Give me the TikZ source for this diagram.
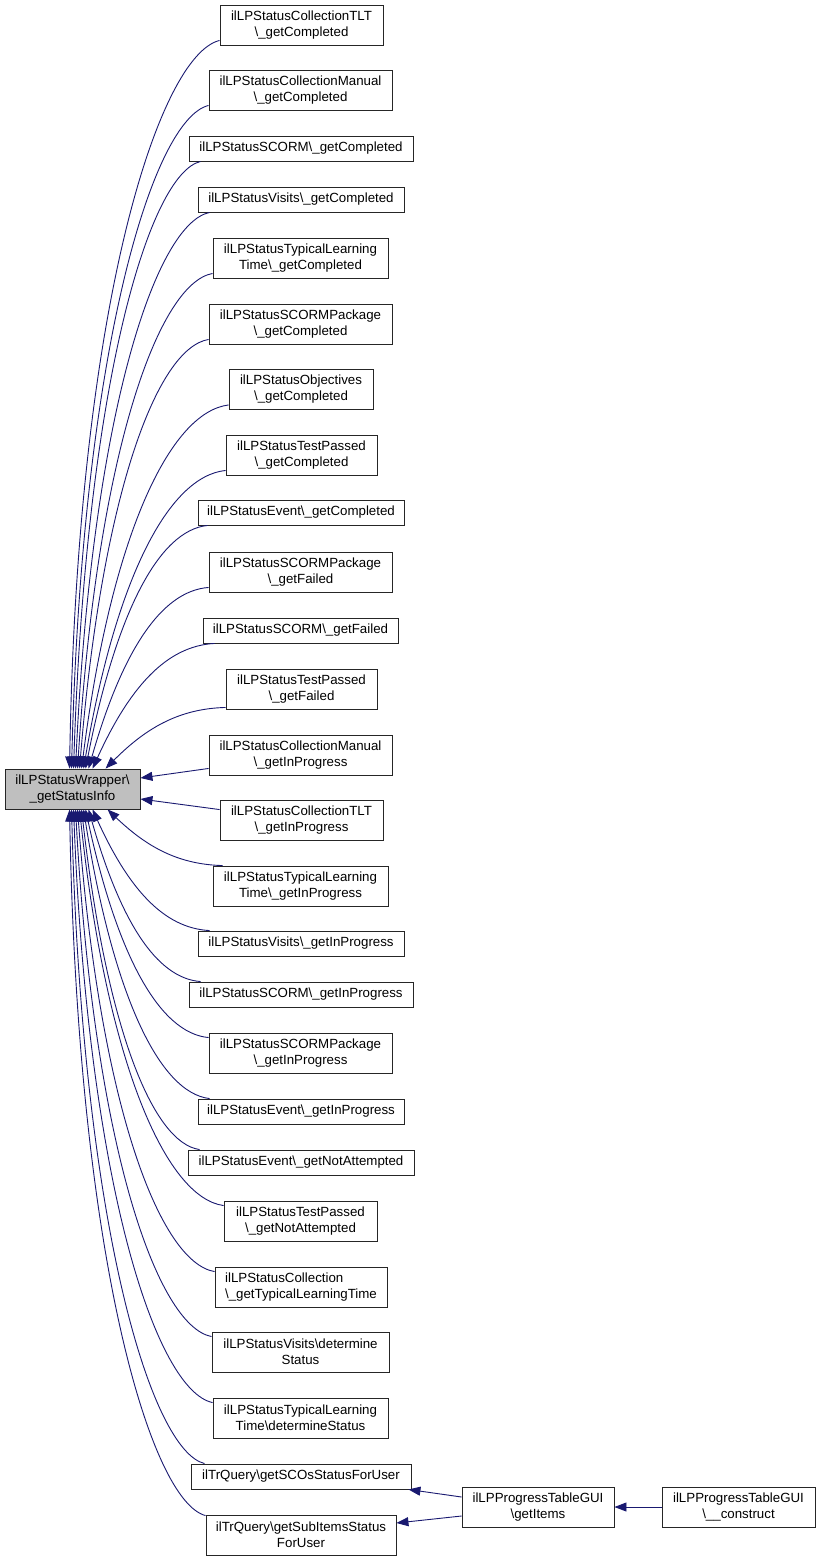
\documentclass[tikz,border=0pt]{standalone}
\usepackage{fontspec}
\setmainfont{Liberation Sans}
\usetikzlibrary{arrows.meta,calc}
\definecolor{edgeblue}{HTML}{191970}
\definecolor{mainfill}{HTML}{BFBFBF}
\newcommand\upedge[2]{\draw[edge] let \p1=(#1), \p2=(#2) in (\p1) .. controls ({\x1-0.4*(\x1-\x2)},{\y1-0.02*(\y1-\y2)}) and ({\x2+(0.35-0.3*(\y1-\y2)/732)*(\x1-\x2)},{\y2+0.64*(\y1-\y2)}) .. (\p2);}
\newcommand\downedge[2]{\draw[edge] let \p1=(#1), \p2=(#2) in (\p1) .. controls ({\x1-0.4*(\x1-\x2)},{\y1+0.02*(\y2-\y1)}) and ({\x2+(0.35-0.3*(\y2-\y1)/732)*(\x1-\x2)},{\y2-0.64*(\y2-\y1)}) .. (\p2);}
\begin{document}
\begin{tikzpicture}[x=1pt,y=-1pt,
  box/.style={draw=black!85, line width=0.9pt, fill=white, font=\fontsize{13.3}{16}\selectfont, align=center, inner sep=0pt, minimum height=25pt},
  two/.style={minimum height=40pt},
  edge/.style={draw=edgeblue, line width=0.9pt, -{Triangle[length=12pt,width=9pt]}},
]
\useasboundingbox (0,0) rectangle (820,1561);

\node[box, two, fill=mainfill, minimum width=135pt] (main) at (72.5,789) {ilLPStatusWrapper\textbackslash\\\_getStatusInfo};

\node[box, two, minimum width=163pt] (n1) at (301.5,25) {ilLPStatusCollectionTLT\\\textbackslash\_getCompleted};
\node[box, two, minimum width=183pt] (n2) at (300.5,90) {ilLPStatusCollectionManual\\\textbackslash\_getCompleted};
\node[box, minimum width=224pt] (n3) at (301,148.5) {ilLPStatusSCORM\textbackslash\_getCompleted};
\node[box, minimum width=206pt] (n4) at (301,199.5) {ilLPStatusVisits\textbackslash\_getCompleted};
\node[box, two, minimum width=175pt] (n5) at (300.5,258) {ilLPStatusTypicalLearning\\Time\textbackslash\_getCompleted};
\node[box, two, minimum width=183pt] (n6) at (300.5,324) {ilLPStatusSCORMPackage\\\textbackslash\_getCompleted};
\node[box, two, minimum width=144pt] (n7) at (301,389.5) {ilLPStatusObjectives\\\textbackslash\_getCompleted};
\node[box, two, minimum width=151pt] (n8) at (301.5,455) {ilLPStatusTestPassed\\\textbackslash\_getCompleted};
\node[box, minimum width=206pt] (n9) at (301,512.5) {ilLPStatusEvent\textbackslash\_getCompleted};
\node[box, two, minimum width=183pt] (n10) at (300.5,572) {ilLPStatusSCORMPackage\\\textbackslash\_getFailed};
\node[box, minimum width=195pt] (n11) at (300.5,630.5) {ilLPStatusSCORM\textbackslash\_getFailed};
\node[box, two, minimum width=151pt] (n12) at (301.5,689) {ilLPStatusTestPassed\\\textbackslash\_getFailed};
\node[box, two, minimum width=183pt] (n13) at (300.5,755) {ilLPStatusCollectionManual\\\textbackslash\_getInProgress};
\node[box, two, minimum width=163pt] (n14) at (301.5,820) {ilLPStatusCollectionTLT\\\textbackslash\_getInProgress};
\node[box, two, minimum width=175pt] (n15) at (300.5,886) {ilLPStatusTypicalLearning\\Time\textbackslash\_getInProgress};
\node[box, minimum width=206pt] (n16) at (301,943.5) {ilLPStatusVisits\textbackslash\_getInProgress};
\node[box, minimum width=224pt] (n17) at (301,994.5) {ilLPStatusSCORM\textbackslash\_getInProgress};
\node[box, two, minimum width=183pt] (n18) at (300.5,1053) {ilLPStatusSCORMPackage\\\textbackslash\_getInProgress};
\node[box, minimum width=206pt] (n19) at (301,1111.5) {ilLPStatusEvent\textbackslash\_getInProgress};
\node[box, minimum width=226pt] (n20) at (301,1162.5) {ilLPStatusEvent\textbackslash\_getNotAttempted};
\node[box, two, minimum width=153pt] (n21) at (300.5,1221) {ilLPStatusTestPassed\\\textbackslash\_getNotAttempted};
\node[box, two, minimum width=172pt, align=left] (n22) at (301,1287) {ilLPStatusCollection\\\textbackslash\_getTypicalLearningTime};
\node[box, two, minimum width=177pt] (n23) at (300.5,1352) {ilLPStatusVisits\textbackslash determine\\Status};
\node[box, two, minimum width=175pt] (n24) at (300.5,1418) {ilLPStatusTypicalLearning\\Time\textbackslash determineStatus};
\node[box, minimum width=220pt] (n25) at (301,1476.5) {ilTrQuery\textbackslash getSCOsStatusForUser};
\node[box, two, minimum width=190pt] (n26) at (301,1535) {ilTrQuery\textbackslash getSubItemsStatus\\ForUser};
\node[box, two, minimum width=152pt] (n27) at (538,1507) {ilLPProgressTableGUI\\\textbackslash getItems};
\node[box, two, minimum width=153pt] (n28) at (738.5,1507) {ilLPProgressTableGUI\\\textbackslash\_\_construct};

% edges into the top of the main node
\upedge{[yshift=5pt]n1.south west}{[xshift=65pt]main.north west}
\upedge{[yshift=5pt]n2.south west}{[xshift=67pt]main.north west}
\upedge{[xshift=12pt]n3.south west}{[xshift=69pt]main.north west}
\upedge{[xshift=12pt]n4.south west}{[xshift=71pt]main.north west}
\upedge{[yshift=5pt]n5.south west}{[xshift=73pt]main.north west}
\upedge{[yshift=5pt]n6.south west}{[xshift=75pt]main.north west}
\upedge{[yshift=5pt]n7.south west}{[xshift=77pt]main.north west}
\upedge{[yshift=5pt]n8.south west}{[xshift=79pt]main.north west}
\upedge{[xshift=10pt]n9.south west}{[xshift=81pt]main.north west}
\upedge{[yshift=5pt]n10.south west}{[xshift=84pt]main.north west}
\upedge{[xshift=12pt]n11.south west}{[xshift=88pt]main.north west}
\upedge{[yshift=2pt]n12.south west}{[xshift=101pt]main.north west}
% edges into the east side
\draw[edge] ([yshift=7pt]n13.south west) -- ([yshift=11pt]main.east);
\draw[edge] ([yshift=-10pt]n14.north west) -- ([yshift=-10pt]main.east);
% edges into the bottom of the main node
\downedge{[xshift=10pt]n15.north west}{[xshift=103pt]main.south west}
\downedge{[xshift=12pt]n16.north west}{[xshift=88pt]main.south west}
\downedge{[xshift=12pt]n17.north west}{[xshift=84pt]main.south west}
\downedge{[yshift=-5pt]n18.north west}{[xshift=81pt]main.south west}
\downedge{[xshift=12pt]n19.north west}{[xshift=79pt]main.south west}
\downedge{[xshift=12pt]n20.north west}{[xshift=77pt]main.south west}
\downedge{[yshift=-5pt]n21.north west}{[xshift=75pt]main.south west}
\downedge{[yshift=-5pt]n22.north west}{[xshift=73pt]main.south west}
\downedge{[yshift=-5pt]n23.north west}{[xshift=71pt]main.south west}
\downedge{[yshift=-5pt]n24.north west}{[xshift=69pt]main.south west}
\downedge{[xshift=14pt]n25.north west}{[xshift=67pt]main.south west}
\downedge{[yshift=-1pt]n26.north west}{[xshift=65pt]main.south west}
% bottom right chain
\draw[edge] ([yshift=10pt]n27.west) -- ([xshift=-3pt]n25.south east);
\draw[edge] ([yshift=-9pt]n27.west) -- ([yshift=12pt]n26.east);
\draw[edge] (n28.west) -- (n27.east);
\end{tikzpicture}
\end{document}
